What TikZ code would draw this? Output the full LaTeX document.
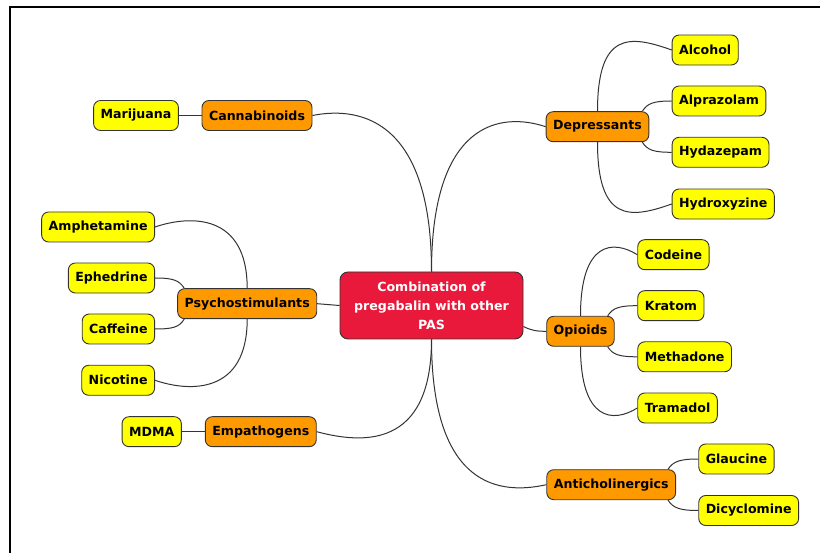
\documentclass[tikz,border=0pt]{standalone}
\usepackage{fontspec}
\setmainfont{DejaVu Sans}
\definecolor{rootred}{HTML}{E8193A}
\definecolor{branch}{HTML}{FF9900}
\definecolor{leaf}{HTML}{FFFF00}
\definecolor{linegrey}{HTML}{333333}

\begin{document}
\begin{tikzpicture}[x=1pt, y=-1pt,
    rootbox/.style={draw=linegrey, line width=0.9pt, rounded corners=8pt, fill=rootred, text=white,
      font=\bfseries\fontsize{12.6}{19}\selectfont, align=center, minimum width=183pt, minimum height=67pt},
    branchbox/.style={draw=linegrey, line width=0.9pt, rounded corners=7pt, fill=branch,
      font=\bfseries\fontsize{12.6}{14}\selectfont, inner xsep=7pt, minimum height=30pt},
    leafbox/.style={branchbox, fill=leaf},
    link/.style={draw=linegrey, line width=1pt}]

  \useasboundingbox (0,0) rectangle (820,553);
  \draw[line width=2pt] (9.5,553) -- (9.5,7.5) -- (820,7.5);

  \node[rootbox] (root) at (431.5,305.5) {Combination of\\pregabalin with other\\PAS};

  \node[branchbox] (can) at (257,115.5) {Cannabinoids};
  \node[leafbox] (mar) at (136,115.5) {Marijuana};

  \node[branchbox] (dep) at (597.5,126.7) {Depressants};
  \node[leafbox, anchor=west] (alc) at (671.7,50) {Alcohol};
  \node[leafbox, anchor=west] (alp) at (671.7,101) {Alprazolam};
  \node[leafbox, anchor=west] (hyda) at (671.7,152.3) {Hydazepam};
  \node[leafbox, anchor=west] (hydr) at (671.7,204) {Hydroxyzine};

  \node[branchbox] (psy) at (247.2,303.7) {Psychostimulants};
  \node[leafbox, anchor=east] (amp) at (155,227) {Amphetamine};
  \node[leafbox, anchor=east] (eph) at (155,278) {Ephedrine};
  \node[leafbox, anchor=east] (caf) at (155,329) {Caffeine};
  \node[leafbox, anchor=east] (nic) at (155,380.3) {Nicotine};

  \node[branchbox] (emp) at (260.8,431.7) {Empathogens};
  \node[leafbox] (mdma) at (151.7,431.7) {MDMA};

  \node[branchbox] (opi) at (580.5,331.3) {Opioids};
  \node[leafbox, anchor=west] (cod) at (637.3,254.7) {Codeine};
  \node[leafbox, anchor=west] (kra) at (637.3,305.7) {Kratom};
  \node[leafbox, anchor=west] (met) at (637.3,356.8) {Methadone};
  \node[leafbox, anchor=west] (tra) at (637.3,408) {Tramadol};

  \node[branchbox] (ant) at (611.2,484.7) {Anticholinergics};
  \node[leafbox, anchor=west] (gla) at (698.3,459) {Glaucine};
  \node[leafbox, anchor=west] (dic) at (698.3,510.5) {Dicyclomine};

  % central topic to branches
  \draw[link] (root.north) .. controls +(0,-160) and +(40,-8) .. (can.east);
  \draw[link] (root.north) .. controls +(0,-150) and +(-45,-15) .. (dep.west);
  \draw[link] (root.west) -- (psy.east);
  \draw[link] ([yshift=-21pt]root.east) .. controls +(8,4) and +(-10,0) .. (opi.west);
  \draw[link] (root.south) .. controls +(0,110) and +(45,12) .. (emp.east);
  \draw[link] (root.south) .. controls +(0,150) and +(-45,10) .. (ant.west);

  % branches to items
  \draw[link] (can.west) -- (mar.east);
  \draw[link] (emp.west) -- (mdma.east);

  \draw[link] (dep.north) .. controls +(0,-80) and +(-42,-15) .. (alc.west);
  \draw[link] ([xshift=-7pt]dep.north east) .. controls +(5,-8) and +(-18,0) .. (alp.west);
  \draw[link] ([xshift=-7pt]dep.south east) .. controls +(5,8) and +(-18,0) .. (hyda.west);
  \draw[link] (dep.south) .. controls +(0,80) and +(-42,15) .. (hydr.west);

  \draw[link] (psy.north) .. controls +(0,-75) and +(35,-12) .. (amp.east);
  \draw[link] ([xshift=7pt]psy.north west) .. controls +(-5,-8) and +(18,0) .. (eph.east);
  \draw[link] ([xshift=7pt]psy.south west) .. controls +(-5,8) and +(18,0) .. (caf.east);
  \draw[link] (psy.south) .. controls +(0,75) and +(35,12) .. (nic.east);

  \draw[link] (opi.north) .. controls +(0,-75) and +(-24,-15) .. (cod.west);
  \draw[link] ([xshift=-7pt]opi.north east) .. controls +(5,-8) and +(-18,0) .. (kra.west);
  \draw[link] ([xshift=-7pt]opi.south east) .. controls +(5,8) and +(-18,0) .. (met.west);
  \draw[link] (opi.south) .. controls +(0,75) and +(-24,15) .. (tra.west);

  \draw[link] ([xshift=-8pt]ant.north east) .. controls +(5,-8) and +(-18,0) .. (gla.west);
  \draw[link] ([xshift=-8pt]ant.south east) .. controls +(5,8) and +(-18,0) .. (dic.west);

\end{tikzpicture}
\end{document}
